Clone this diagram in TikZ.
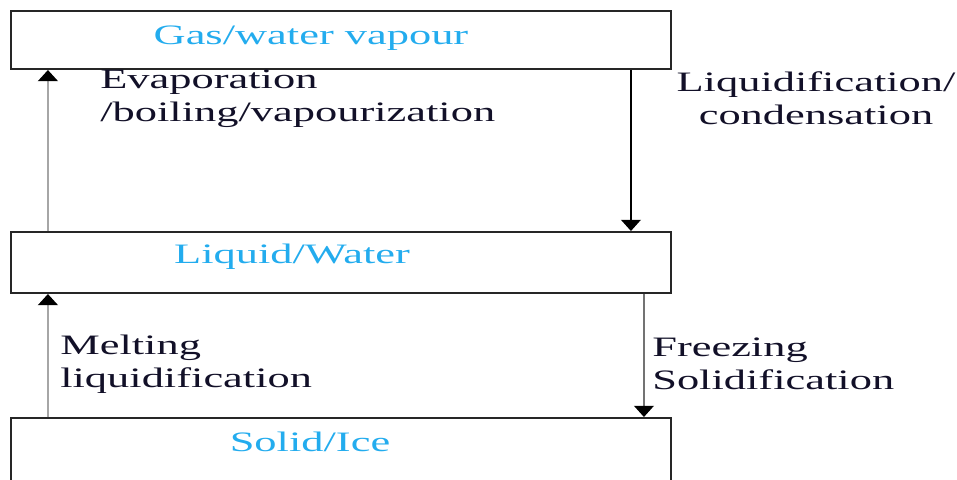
\documentclass[tikz,border=0pt]{standalone}
\usepackage{fontspec}
\setmainfont{Liberation Serif}[FakeStretch=1.58]
\usetikzlibrary{arrows.meta,calc}

\definecolor{phaseblue}{RGB}{35,172,238}
\definecolor{ink}{RGB}{18,16,40}

\tikzset{
    phase/.style={draw=black!85, line width=1.4pt, minimum width=16.5cm, inner sep=0pt},
    phasename/.style={text=phaseblue, inner sep=0pt, font=\fontsize{20}{24}\selectfont},
    change/.style={text=ink, inner sep=0pt, font=\fontsize{20}{23.5}\selectfont},
    rise/.style={draw=black!35, line width=2pt, -{Triangle[width=14pt,length=8pt,color=black]}},
    fall/.style={draw=black, line width=1.5pt, -{Triangle[width=14pt,length=8pt,color=black]}}
}

\begin{document}
\begin{tikzpicture}[x=0.025cm, y=-0.025cm]
    \useasboundingbox (0,0) rectangle (957,479);
    \clip (0,0) rectangle (957,479);

    % the three states
    \node[phase, minimum height=1.45cm] (gas) at (341,40) {};
    \node[phase, minimum height=1.525cm] (liquid) at (341,262.5) {};
    \node[phase, minimum height=2cm] (solid) at (341,458) {};

    \node[phasename] (gasname) at (311,38) {Gas/water vapour};
    \node[phasename] (liquidname) at (292,257) {Liquid/Water};
    \node[phasename] (solidname) at (310,442) {Solid/Ice};

    % changes between them
    \draw[rise] ($(liquid.north west)+(38,0)$) -- ($(gas.south west)+(38,0)$);
    \draw[fall] ($(gas.south west)+(621,0)$) -- ($(liquid.north west)+(621,0)$);
    \draw[rise] ($(solid.north west)+(38,0)$) -- ($(liquid.south west)+(38,0)$);
    \draw[fall, draw=black!55] ($(liquid.south west)+(634,0)$) -- ($(solid.north west)+(634,0)$);

    \node[change, align=left, anchor=west] (evap) at (100,99) {Evaporation\\/boiling/vapourization};
    \node[change, align=center] (cond) at (816,98) {Liquidification/\\condensation};
    \node[change, align=left, anchor=west] (melt) at (60,364) {Melting\\liquidification};
    \node[change, align=left, anchor=west] (freeze) at (652,364) {Freezing\\Solidification};
\end{tikzpicture}
\end{document}
